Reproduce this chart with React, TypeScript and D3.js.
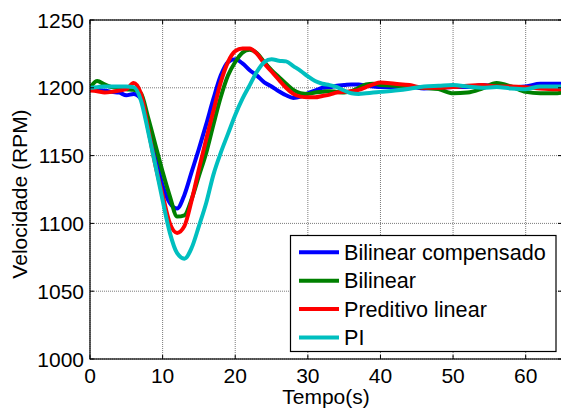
import React from "react";
import * as d3 from "d3";

const time = [
  0, 1, 2, 3, 4, 5, 6, 7, 8, 9, 10, 11, 12, 13, 14, 15, 16, 17, 18, 19, 20,
  21, 22, 23, 24, 25, 26, 27, 28, 29, 30, 31, 32, 33, 34, 35, 36, 37, 38, 39, 40,
  42, 44, 46, 48, 50, 52, 54, 56, 58, 60, 62, 64, 65,
];

const bilinearCompensado = [
  1200, 1198.5, 1198, 1197, 1196.5, 1194.5, 1195.5, 1192, 1172, 1150, 1128,
  1115, 1111, 1121, 1138, 1155, 1173, 1192, 1209, 1219, 1221,
  1218, 1213, 1209, 1204, 1201, 1197.5, 1194.5, 1192.5, 1193.5, 1196,
  1198, 1200, 1200.5, 1201.5, 1202, 1202.5, 1202.5, 1201.5, 1201, 1200.5,
  1200.5, 1201, 1199.5, 1200, 1200.5, 1200.5, 1202, 1201, 1200.5, 1201, 1203, 1203, 1203,
];

const bilinear = [
  1200, 1205, 1202.5, 1200.5, 1200, 1199, 1198.5, 1196, 1178, 1158, 1138,
  1120, 1105, 1106, 1118, 1135, 1152, 1173, 1193, 1209, 1219,
  1226, 1228, 1225.5, 1219, 1213, 1208, 1203, 1198.5, 1196, 1195.5,
  1196.5, 1197, 1197.5, 1197, 1196.5, 1197.5, 1200, 1202.5, 1203, 1202,
  1201.5, 1201, 1200, 1199, 1196, 1196.5, 1199.5, 1203.5, 1201, 1197, 1196, 1196, 1196.5,
];

const preditivoLinear = [
  1198, 1197.5, 1196.5, 1197, 1198, 1199, 1203.5, 1196, 1170, 1143, 1121,
  1100, 1093, 1098, 1117, 1140, 1162, 1183, 1204, 1219, 1227,
  1229, 1229, 1225, 1218, 1212, 1206, 1200, 1195.5, 1193.5, 1193,
  1193, 1194, 1195, 1196.5, 1197, 1197.5, 1198.5, 1200.5, 1202.5, 1204,
  1203, 1202, 1200, 1200, 1200.5, 1201.5, 1202, 1201, 1201, 1200.5, 1199.5, 1199, 1199,
];

const pi = [
  1200, 1200.5, 1201, 1201, 1201, 1201, 1200.5, 1191, 1168, 1143, 1117,
  1093, 1078, 1074, 1082, 1098, 1115, 1136, 1152, 1166, 1180,
  1192, 1202, 1212, 1219, 1221, 1220, 1219.5, 1216, 1212.5, 1208.5,
  1205, 1203, 1202, 1200.5, 1198, 1196, 1195.5, 1196, 1196.5, 1197,
  1198, 1199.3, 1201, 1201.5, 1202, 1201, 1200, 1200.5, 1199.5, 1199, 1201, 1201, 1201,
];

const seriesNames = ["Bilinear compensado", "Bilinear", "Preditivo linear", "PI"];
const seriesColors = ["#0000FF", "#008000", "#FF0000", "#00BFBF"];
const seriesValues = [bilinearCompensado, bilinear, preditivoLinear, pi];

const xTicks = [0, 10, 20, 30, 40, 50, 60];
const yTicks = [1000, 1050, 1100, 1150, 1200, 1250];

const W = 561;
const H = 412;
const left = 90;
const right = 562;
const top = 20;
const bottom = 359;
const FONT = "'Liberation Sans', Arial, sans-serif";

export default function App() {
  const x = d3.scaleLinear().domain([0, 65]).range([left, right]);
  const y = d3.scaleLinear().domain([1000, 1250]).range([bottom, top]);
  const line = d3
    .line<number>()
    .x((_, i) => x(time[i]))
    .y((v) => y(v))
    .curve(d3.curveMonotoneX);

  const legX = 290.5;
  const legY = 235.5;
  const legW = 265.5;
  const legH = 116;
  const rowY = [252.3, 280.7, 309, 337.5];

  return (
    <svg
      width={W}
      height={H}
      style={{ position: "absolute", left: 0, top: 0, background: "#fff" }}
      fontFamily={FONT}
    >
      <rect x={0} y={0} width={W} height={H} fill="#fff" />
      <defs>
        <clipPath id="plotClip">
          <rect x={left} y={top} width={right - left} height={bottom - top} />
        </clipPath>
      </defs>
      {xTicks.map((t) => (
        <line
          key={"gx" + t}
          x1={x(t)}
          x2={x(t)}
          y1={top}
          y2={bottom}
          stroke="#7a7a7a"
          strokeWidth={1}
          strokeDasharray="1,1"
        />
      ))}
      {yTicks.map((t) => (
        <line
          key={"gy" + t}
          x1={left}
          x2={right}
          y1={y(t)}
          y2={y(t)}
          stroke="#7a7a7a"
          strokeWidth={1}
          strokeDasharray="1,1"
        />
      ))}
      <g clipPath="url(#plotClip)">
        {seriesValues.map((vals, i) => (
          <path
            key={seriesNames[i]}
            d={line(vals) || ""}
            fill="none"
            stroke={seriesColors[i]}
            strokeWidth={4}
            strokeLinejoin="round"
            strokeLinecap="round"
          />
        ))}
      </g>
      <rect
        x={left}
        y={top}
        width={right - left}
        height={bottom - top}
        fill="none"
        stroke="#000"
        strokeWidth={1.2}
      />
      {xTicks.map((t) => (
        <g key={"tx" + t}>
          <line x1={x(t)} x2={x(t)} y1={bottom} y2={bottom - 4} stroke="#000" />
          <line x1={x(t)} x2={x(t)} y1={top} y2={top + 4} stroke="#000" />
          <text x={x(t)} y={383} fontSize={21} textAnchor="middle" fill="#000">
            {t}
          </text>
        </g>
      ))}
      {yTicks.map((t) => (
        <g key={"ty" + t}>
          <line x1={left} x2={left + 4} y1={y(t)} y2={y(t)} stroke="#000" />
          <line x1={right} x2={right - 4} y1={y(t)} y2={y(t)} stroke="#000" />
          <text x={84} y={y(t) + 7.5} fontSize={21} textAnchor="end" fill="#000">
            {t}
          </text>
        </g>
      ))}
      <text x={(left + right) / 2} y={404} fontSize={21} textAnchor="middle" fill="#000">
        Tempo(s)
      </text>
      <text
        transform={`translate(26.5, 194) rotate(-90)`}
        fontSize={21}
        textAnchor="middle"
        fill="#000"
      >
        Velocidade (RPM)
      </text>
      <rect x={legX} y={legY} width={legW} height={legH} fill="#fff" stroke="#000" strokeWidth={1.2} />
      {seriesNames.map((name, i) => (
        <g key={"leg" + name}>
          <line
            x1={299}
            x2={339}
            y1={rowY[i]}
            y2={rowY[i]}
            stroke={seriesColors[i]}
            strokeWidth={4}
          />
          <text x={344} y={rowY[i] + 7.5} fontSize={21.6} fill="#000">
            {name}
          </text>
        </g>
      ))}
    </svg>
  );
}
